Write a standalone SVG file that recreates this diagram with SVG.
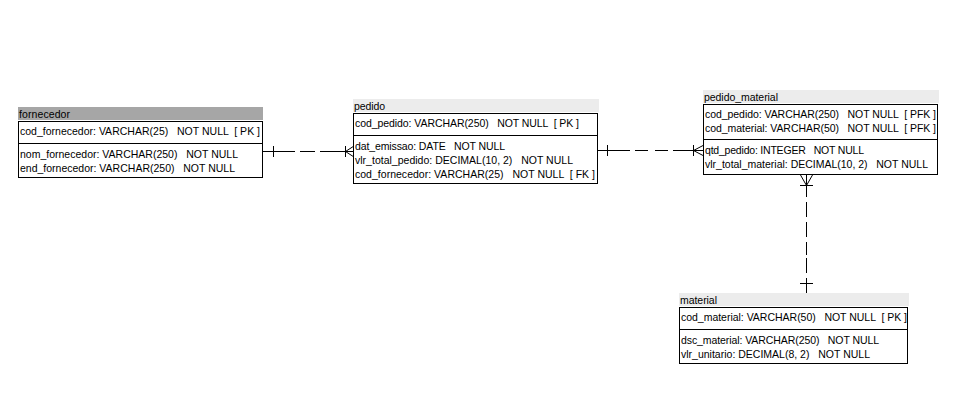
<svg xmlns="http://www.w3.org/2000/svg" width="961" height="405" viewBox="0 0 961 405">
<style>
.hdr{fill:#ececec;stroke:none}
.hdrsel{fill:#a6a6a6;stroke:none}
.box{fill:#ffffff;stroke:#000;stroke-width:1}
.div{stroke:#000;stroke-width:1}
text{font-family:"Liberation Sans",Arial,sans-serif;font-size:10.5px;fill:#000;white-space:pre}
.con{stroke:#000;stroke-width:1;fill:none}
</style>
<rect width="961" height="405" fill="#fff"/>
<g id="fornecedor">
<rect class="hdrsel" x="18" y="107" width="245" height="13"/>
<text x="19" y="118" textLength="51" lengthAdjust="spacing">fornecedor</text>
<rect class="box" x="18.5" y="121.5" width="244" height="56"/>
<line class="div" x1="18.5" y1="143.5" x2="262.5" y2="143.5"/>
<text x="20" y="135" textLength="240" lengthAdjust="spacing">cod_fornecedor: VARCHAR(25)   NOT NULL  [ PK ]</text>
<text x="20" y="158" textLength="218" lengthAdjust="spacing">nom_fornecedor: VARCHAR(250)   NOT NULL</text>
<text x="20" y="172" textLength="215" lengthAdjust="spacing">end_fornecedor: VARCHAR(250)   NOT NULL</text>
</g>
<g id="pedido">
<rect class="hdr" x="353" y="99" width="246" height="13"/>
<text x="354" y="110" textLength="31" lengthAdjust="spacing">pedido</text>
<rect class="box" x="353.5" y="113.5" width="244" height="70"/>
<line class="div" x1="353.5" y1="135.5" x2="597.5" y2="135.5"/>
<text x="355" y="127" textLength="224" lengthAdjust="spacing">cod_pedido: VARCHAR(250)   NOT NULL  [ PK ]</text>
<text x="355" y="150" textLength="150" lengthAdjust="spacing">dat_emissao: DATE   NOT NULL</text>
<text x="355" y="164" textLength="218" lengthAdjust="spacing">vlr_total_pedido: DECIMAL(10, 2)   NOT NULL</text>
<text x="355" y="178" textLength="240" lengthAdjust="spacing">cod_fornecedor: VARCHAR(25)   NOT NULL  [ FK ]</text>
</g>
<g id="pedido_material">
<rect class="hdr" x="703" y="90" width="236" height="13"/>
<text x="704" y="101" textLength="74" lengthAdjust="spacing">pedido_material</text>
<rect class="box" x="703.5" y="104.5" width="234" height="70"/>
<line class="div" x1="703.5" y1="139.5" x2="937.5" y2="139.5"/>
<text x="705" y="118" textLength="231" lengthAdjust="spacing">cod_pedido: VARCHAR(250)   NOT NULL  [ PFK ]</text>
<text x="705" y="132" textLength="231" lengthAdjust="spacing">cod_material: VARCHAR(50)   NOT NULL  [ PFK ]</text>
<text x="705" y="154" textLength="159" lengthAdjust="spacing">qtd_pedido: INTEGER   NOT NULL</text>
<text x="705" y="168" textLength="223" lengthAdjust="spacing">vlr_total_material: DECIMAL(10, 2)   NOT NULL</text>
</g>
<g id="material">
<rect class="hdr" x="679" y="293" width="230" height="13"/>
<text x="680" y="304" textLength="37" lengthAdjust="spacing">material</text>
<rect class="box" x="679.5" y="307.5" width="228" height="56"/>
<line class="div" x1="679.5" y1="329.5" x2="907.5" y2="329.5"/>
<text x="681" y="321" textLength="226" lengthAdjust="spacing">cod_material: VARCHAR(50)   NOT NULL  [ PK ]</text>
<text x="681" y="344" textLength="198" lengthAdjust="spacing">dsc_material: VARCHAR(250)   NOT NULL</text>
<text x="681" y="358" textLength="189" lengthAdjust="spacing">vlr_unitario: DECIMAL(8, 2)   NOT NULL</text>
</g>
<g id="connectors">
<path class="con" d="M263,151.5 H295 M300,151.5 H315 M320,151.5 H354 M273.5,146 V157 M345.5,146 V157 M345.5,151.5 L354,146 M345.5,151.5 L354,157"/>
<path class="con" d="M598,150.5 H630 M635,150.5 H648 M655,150.5 H668 M673,150.5 H704 M607.5,145 V156 M693.5,145 V156 M693.5,150.5 L704,145 M693.5,150.5 L704,156"/>
<path class="con" d="M806.5,175 V197 M806.5,202 V217 M806.5,222 V237 M806.5,242 V255 M806.5,258 V273 M806.5,278 V293 M800,185.5 H813 M800,283.5 H813 M806.5,185.5 L800.5,175 M806.5,185.5 L812.5,175"/>
</g>
</svg>
